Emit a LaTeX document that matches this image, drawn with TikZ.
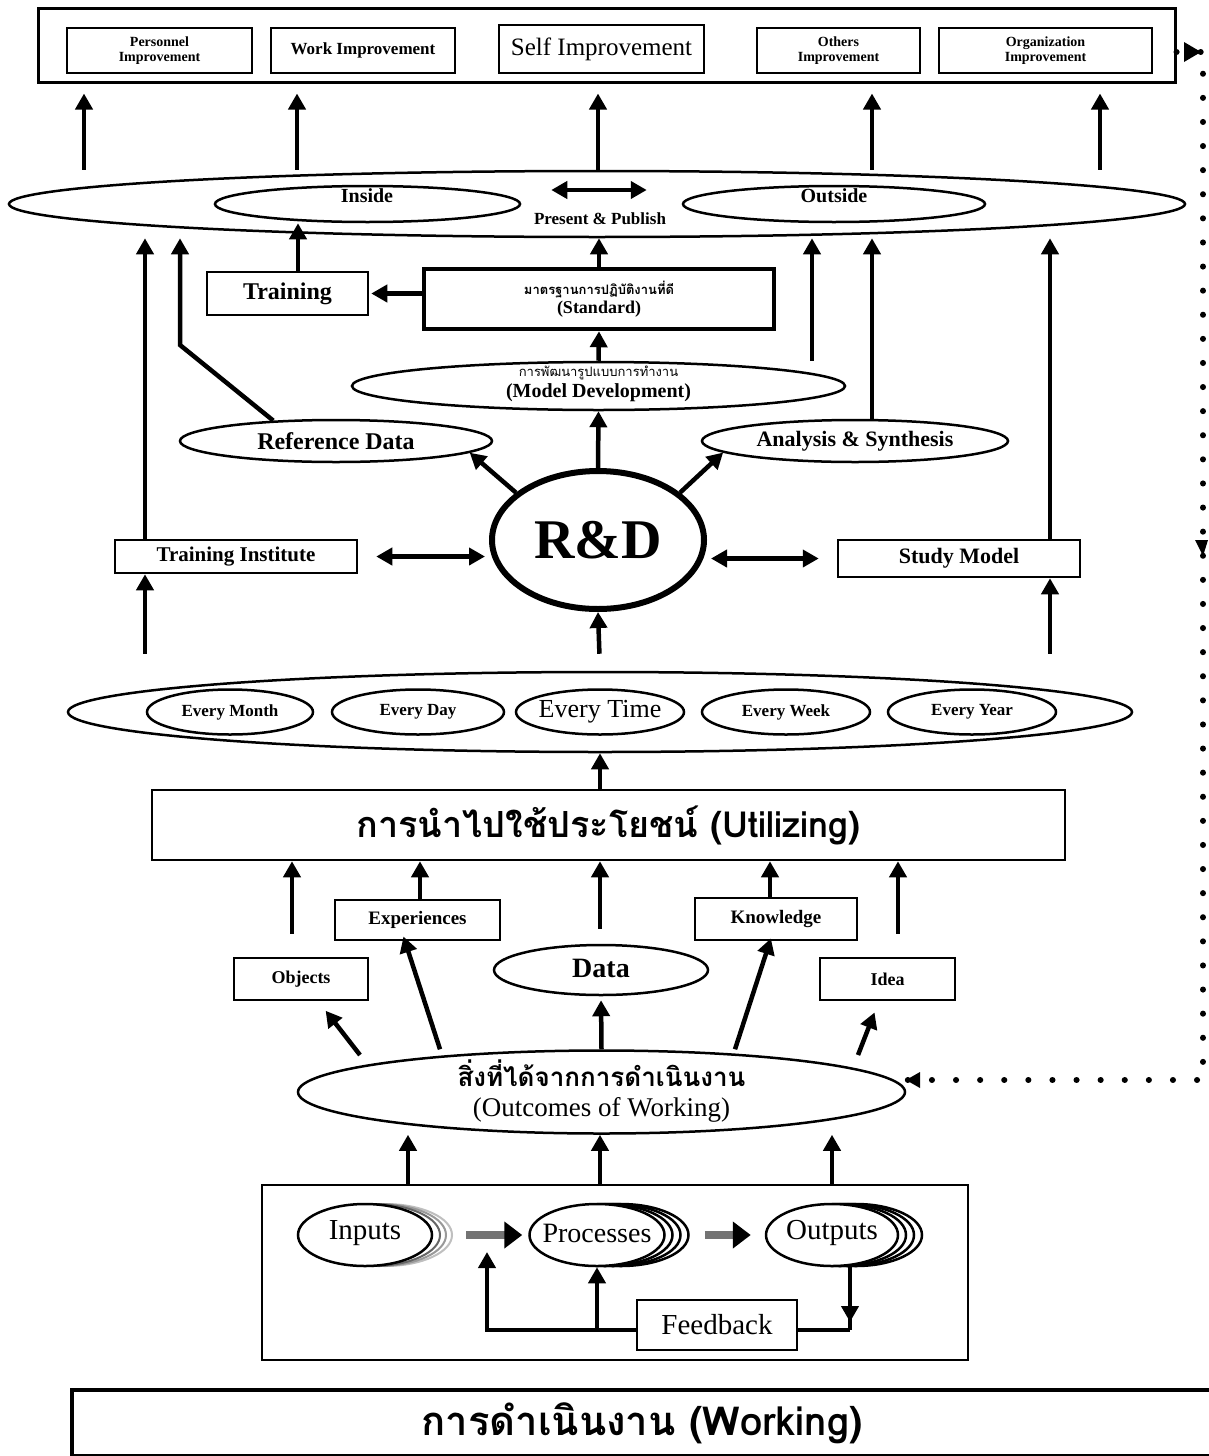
\documentclass[tikz,border=0pt]{standalone}
\usepackage{fontspec}
\setmainfont{Liberation Serif}
\newfontfamily\thai[Script=Thai]{Loma}
\usetikzlibrary{shapes.geometric,arrows.meta,calc}
\newcommand\fs[2]{\fontsize{#1pt}{#2pt}\selectfont}
\begin{document}
\begin{tikzpicture}[x=1pt,y=-1pt,
  box/.style={draw, line width=2.5pt, inner sep=0pt, align=center, font=\bfseries},
  ell/.style={draw, ellipse, line width=2.5pt, inner sep=0pt},
  lbl/.style={inner sep=0pt, align=center, font=\bfseries},
  arr/.style={line width=4.5pt, -{Triangle[length=16pt,width=17pt]}},
  darr/.style={line width=4.5pt, {Triangle[length=16pt,width=17pt]}-{Triangle[length=16pt,width=17pt]}},
  dotl/.style={line width=6pt, line cap=round, dash pattern=on 0.1pt off 24pt}]
\useasboundingbox[fill=white] (0,0) rectangle (1208,1456);

% ---------- top row ----------
\node[draw, line width=3pt, inner sep=0pt, minimum width=1137pt, minimum height=74pt] (topbox) at (606.5,45) {};
\node[box, minimum width=185pt, minimum height=45pt, font=\bfseries\fs{14}{15}] (pers) at (159.5,50.5) {Personnel\\Improvement};
\node[box, minimum width=184pt, minimum height=45pt, font=\bfseries\fs{17}{19}] (work) at (363,50.5) {Work Improvement};
\node[box, minimum width=205pt, minimum height=48pt, font=\fs{25}{27}] (self) at (601.5,49) {Self Improvement};
\node[box, minimum width=163pt, minimum height=45pt, font=\bfseries\fs{14}{15}] (oth) at (838.5,50.5) {Others\\Improvement};
\node[box, minimum width=213pt, minimum height=45pt, font=\bfseries\fs{14}{15}] (org) at (1045.5,50.5) {Organization\\Improvement};

% ---------- present & publish ----------
\node[ell, minimum width=1176pt, minimum height=66pt] (big) at (597,204) {};
\node[ell, minimum width=305pt, minimum height=36pt] (inside) at (367.5,204) {};
\node[ell, minimum width=302pt, minimum height=36pt] (outside) at (834,204) {};
\node[lbl, font=\bfseries\fs{20}{22}] (insideT) at (367,196) {Inside};
\node[lbl, font=\bfseries\fs{20}{22}] (outsideT) at (834,196) {Outside};
\node[lbl, font=\bfseries\fs{17}{19}] (pp) at (600,219) {Present \& Publish};
\draw[darr, line width=4pt, shorten <=30pt, shorten >=35pt] (inside.east |- 0,190) -- (outside.west |- 0,190);

\foreach \xx in {84,297,598,872,1100}
  \draw[arr, shorten >=10pt] (big.north -| \xx,0) -- (topbox.south -| \xx,0);

% ---------- middle part ----------
\node[box, minimum width=161pt, minimum height=43pt, font=\bfseries\fs{24}{26}] (tr) at (287.5,293.5) {Training};
\node[box, line width=4.5pt, minimum width=350pt, minimum height=60pt] (std) at (599,299)
  {{\thai\bfseries\fs{13}{16}มาตรฐานการปฏิบัติงานที่ดี}\\[2pt]{\fs{18}{20}(Standard)}};
\node[ell, minimum width=493pt, minimum height=48pt] (md) at (598.5,386) {};
\node[lbl, font=\thai\fs{13}{15}] (mdT1) at (598.5,373) {การพัฒนารูปแบบการทำงาน};
\node[lbl, font=\bfseries\fs{20}{22}] (mdT2) at (598.5,393) {(Model Development)};
\node[ell, minimum width=312pt, minimum height=42pt] (refd) at (336,441) {};
\node[lbl, font=\bfseries\fs{24}{26}] (refdT) at (336,441) {Reference Data};
\node[ell, minimum width=306pt, minimum height=42pt] (an) at (855,441) {};
\node[lbl, font=\bfseries\fs{22}{24}] (anT) at (855,441) {Analysis \& Synthesis};
\node[ell, line width=6pt, minimum width=212pt, minimum height=138pt] (rd) at (598,540) {};
\node[lbl, font=\bfseries\fs{56}{60}] (rdT) at (598,540) {R\&D};
\node[box, minimum width=242pt, minimum height=33pt, font=\bfseries\fs{21}{23}] (trI) at (236,556.5) {Training Institute};
\node[box, minimum width=242pt, minimum height=37pt, font=\bfseries\fs{22}{24}] (sm) at (959,558.5) {Study Model};

\draw[arr] (tr.north -| 298,0) -- (inside.south -| 298,0);
\draw[arr] (std.north) -- (std.north |- big.south);
\draw[arr, shorten >=2pt] (std.west |- tr.east) -- (tr.east);
\draw[arr] (md.north) -- (std.south);
\draw[arr] (rd.north) -- (md.south);
\draw[arr] (md.north -| 812,0) -- (big.south -| 812,0);
\draw[arr] (an.north -| 872,0) -- (big.south -| 872,0);
\draw[arr] (trI.north -| 145,0) -- (big.south -| 145,0);
\draw[arr] (sm.north -| 1050,0) -- (big.south -| 1050,0);
\coordinate (bend) at (180,345);
\draw[arr] (refd.162) -- (bend) -- (bend |- big.south);
\draw[arr] (rd.150) -- (refd.-5);
\draw[arr] (rd.30) -- (an.-175);
\draw[darr, shorten <=18pt, shorten >=4pt] (trI.east) -- (rd.west |- trI.east);
\draw[darr, shorten <=4pt, shorten >=18pt] (rd.east |- sm.west) -- (sm.west);

% ---------- every ... ----------
\node[ell, minimum width=1064pt, minimum height=80pt] (ev) at (600,712) {};
\node[ell, minimum width=166pt, minimum height=45pt] (eM) at (230,712) {};
\node[ell, minimum width=172pt, minimum height=45pt] (eD) at (418,712) {};
\node[ell, minimum width=168pt, minimum height=45pt] (eT) at (600,712) {};
\node[ell, minimum width=168pt, minimum height=45pt] (eW) at (786,712) {};
\node[ell, minimum width=168pt, minimum height=45pt] (eY) at (972,712) {};
\node[lbl, font=\bfseries\fs{17}{19}] (eMT) at (eM) {Every Month};
\node[lbl, font=\bfseries\fs{17}{19}] (eDT) at (eD) {Every Day};
\node[lbl, font=\fs{26}{28}] (eTT) at (eT) {Every Time};
\node[lbl, font=\bfseries\fs{17}{19}] (eWT) at (eW) {Every Week};
\node[lbl, font=\bfseries\fs{17}{19}] (eYT) at (eY) {Every Year};

\draw[arr, shorten <=17pt] (ev.north -| 145,0) -- (trI.south -| 145,0);
\draw[arr, shorten <=17pt] (ev.north) -- (rd.south);
\draw[arr, shorten <=17pt] (ev.north -| 1050,0) -- (sm.south -| 1050,0);

% ---------- utilizing ----------
\node[draw, line width=2.5pt, inner sep=0pt, minimum width=913pt, minimum height=70pt,
  font=\thai\bfseries\fs{36}{38}] (util) at (608.5,825) {การนำไปใช้ประโยชน์ (Utilizing)};
\draw[arr] (util.north -| 600,0) -- (ev.south -| 600,0);

\node[box, minimum width=165pt, minimum height=40pt, font=\bfseries\fs{19}{21}] (exp) at (417.5,920) {Experiences};
\node[box, minimum width=162pt, minimum height=42pt, font=\bfseries\fs{19}{21}] (kn) at (776,919) {Knowledge};
\node[box, minimum width=134pt, minimum height=42pt, font=\bfseries\fs{18}{20}] (obj) at (301,979) {Objects};
\node[box, minimum width=135pt, minimum height=42pt, font=\bfseries\fs{18}{20}] (idea) at (887.5,979) {Idea};
\node[ell, minimum width=214pt, minimum height=50pt] (data) at (601,970) {};
\node[lbl, font=\bfseries\fs{28}{30}] (dataT) at (601,968) {Data};

\draw[arr, shorten <=23pt] (obj.north -| 292,0) -- (util.south -| 292,0);
\draw[arr] (exp.north -| 420,0) -- (util.south -| 420,0);
\draw[arr, shorten <=15pt] (data.north -| 600,0) -- (util.south -| 600,0);
\draw[arr] (kn.north -| 770,0) -- (util.south -| 770,0);
\draw[arr, shorten <=23pt] (idea.north -| 898,0) -- (util.south -| 898,0);

% ---------- outcomes ----------
\node[ell, minimum width=607pt, minimum height=83pt] (out) at (601.5,1092) {};
\node[lbl, font=\thai\bfseries\fs{26}{28}] (outT1) at (601.5,1073) {สิ่งที่ได้จากการดำเนินงาน};
\node[lbl, font=\fs{27}{29}] (outT2) at (601.5,1110) {(Outcomes of Working)};

\coordinate (s1) at (360,1055);
\coordinate (s5) at (858,1055);
\draw[arr, shorten >=12pt] (s1) -- (obj);
\draw[arr, shorten >=-5pt] (out.north -| 440,0) -- (exp.south -| 405,0);
\draw[arr, shorten >=4pt] (out.north) -- (data.south);
\draw[arr, shorten >=-3pt] (out.north -| 735,0) -- (kn.south -| 770,0);
\draw[arr, shorten >=12pt] (s5) -- (idea);

% ---------- working process box ----------
\node[draw, line width=2.5pt, inner sep=0pt, minimum width=706pt, minimum height=175pt] (bot) at (615,1272.5) {};
\foreach \dx/\cc in {20/black!25,14/black!40,8/black!60}
  \draw[line width=2pt, draw=\cc, fill=white] (365+\dx,1235) ellipse [x radius=67, y radius=31];
\foreach \dx in {24,16,8}
  \draw[line width=2.5pt, fill=white] (597+\dx,1235) ellipse [x radius=67.5, y radius=31];
\foreach \dx in {24,16,8}
  \draw[line width=2.5pt, fill=white] (832+\dx,1235) ellipse [x radius=66, y radius=31];
\node[ell, fill=white, minimum width=134pt, minimum height=62pt] (inp) at (365,1235) {};
\node[ell, fill=white, minimum width=135pt, minimum height=62pt] (proc) at (597,1235) {};
\node[ell, fill=white, minimum width=132pt, minimum height=62pt] (outp) at (832,1235) {};
\node[lbl, font=\fs{29}{31}] (inpT) at (365,1233) {Inputs};
\node[lbl, font=\fs{28}{30}] (procT) at (597,1233) {Processes};
\node[lbl, font=\fs{29}{31}] (outpT) at (832,1233) {Outputs};
\node[box, font=\fs{29}{31}, minimum width=160pt, minimum height=50pt] (fb) at (717,1325) {Feedback};

\draw[line width=8pt, draw=black!55, -{Triangle[length=18pt,width=26pt,color=black]}, shorten <=33pt, shorten >=6pt] (inp.east) -- (proc.west);
\draw[line width=8pt, draw=black!55, -{Triangle[length=18pt,width=26pt,color=black]}, shorten <=39pt, shorten >=14pt] (proc.east) -- (outp.west);

\coordinate (fbR) at (850,1330);
\coordinate (fbL) at (487,1330);
\coordinate (fbT) at (487,1252);
\draw[line width=4.5pt] (fb.east |- fbR) -- (fbR);
\draw[line width=4.5pt, -{Triangle[length=16pt,width=17pt]}, shorten >=8pt] (fbR |- outp.south) -- (fbR);
\draw[line width=4.5pt] (fbR |- outp.south) -- (fbR);
\draw[arr, line join=miter] (fb.west |- fbL) -- (fbL) -- (fbT);
\draw[arr] (proc.south |- fbL) -- (proc.south);

\draw[arr] (bot.north -| 408,0) -- (out.south -| 408,0);
\draw[arr] (bot.north -| 600,0) -- (out.south -| 600,0);
\draw[arr] (bot.north -| 832,0) -- (out.south -| 832,0);

% ---------- dotted feedback on the right ----------
\coordinate (d1) at (1203,52);
\coordinate (d2) at (1203,1080);
\draw[dotl] (topbox.east |- d1) -- (d1) -- (d2) -- (out.east |- d2);
\fill (1184,42) -- (1201,52) -- (1184,62) -- cycle;
\fill (1195,540) -- (1208,540) -- (1203,556) -- cycle;
\fill (906,1080) -- (920,1072) -- (920,1088) -- cycle;

% ---------- working ----------
\node[draw, line width=4pt, inner sep=0pt, minimum width=1140pt, minimum height=66pt,
  font=\thai\bfseries\fs{40}{42}] (workB) at (642,1423) {การดำเนินงาน (Working)};
\end{tikzpicture}
\end{document}
